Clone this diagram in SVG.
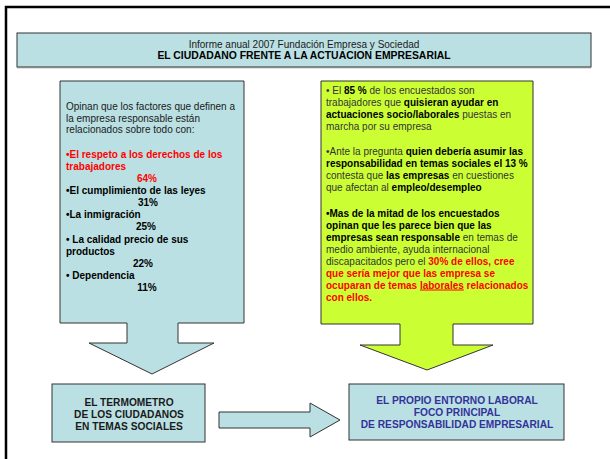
<svg xmlns="http://www.w3.org/2000/svg" width="610" height="459" viewBox="0 0 610 459">
<style>
text{font-family:"Liberation Sans",Arial,sans-serif;fill:#1a1a1a}
.t{font-size:10px}
.b{font-weight:bold;fill:#000}
.r{font-weight:bold;fill:#ff0000}
.n{fill:#333}
.blue{fill:#bbe0e3;stroke:#333;stroke-width:1}
.lime{fill:#ccff33;stroke:#333;stroke-width:1}
.cap{font-size:10.2px;font-weight:bold;text-anchor:middle}
</style>
<rect width="610" height="459" fill="#fff"/>
<path d="M6,459 V7 H610" fill="none" stroke="#000" stroke-width="2.5"/>
<g id="title">
<rect x="17" y="33" width="574" height="34" class="blue"/>
<line x1="17" y1="67.5" x2="591" y2="67.5" stroke="#888" stroke-width="1.5"/>
<text x="304" y="47.5" class="t" text-anchor="middle">Informe anual 2007 Fundación Empresa y Sociedad</text>
<text x="304" y="58.5" class="t b" text-anchor="middle" style="font-size:10.4px">EL CIUDADANO FRENTE A LA ACTUACION EMPRESARIAL</text>
</g>
<g id="left-panel">
<path d="M60,81 H244 V323 H178 V343 H214 L152,374 L89,343 H127 V323 H60 Z" class="blue"/>
<g class="t">
<text x="66" y="110">Opinan que los factores que definen a</text>
<text x="66" y="121.5">la empresa responsable están</text>
<text x="66" y="133">relacionados sobre todo con:</text>
<text x="66" y="158" class="r">•El respeto a los derechos de los</text>
<text x="66" y="170" class="r">trabajadores</text>
<text x="147" y="182" class="r" text-anchor="middle">64%</text>
<text x="66" y="194" class="b">•El cumplimiento de las leyes</text>
<text x="148" y="206" class="b" text-anchor="middle">31%</text>
<text x="66" y="218" class="b">•La inmigración</text>
<text x="146" y="230" class="b" text-anchor="middle">25%</text>
<text x="66" y="242.5" class="b">• La calidad precio de sus</text>
<text x="66" y="254.5" class="b">productos</text>
<text x="143" y="267" class="b" text-anchor="middle">22%</text>
<text x="66" y="279" class="b">• Dependencia</text>
<text x="147" y="291" class="b" text-anchor="middle">11%</text>
</g>
</g>
<g id="right-panel">
<path d="M321,81 H533 V324 H453 V345 H493 L427,370 L360,345 H400 V324 H321 Z" class="lime"/>
<g class="t">
<text x="326" y="94"><tspan class="n">• El </tspan><tspan class="b">85 %</tspan><tspan class="n"> de los encuestados son</tspan></text>
<text x="326" y="106"><tspan class="n">trabajadores que </tspan><tspan class="b">quisieran ayudar en</tspan></text>
<text x="326" y="118"><tspan class="b">actuaciones socio/laborales</tspan><tspan class="n"> puestas en</tspan></text>
<text x="326" y="130"><tspan class="n">marcha por su empresa</tspan></text>
<text x="326" y="155"><tspan class="n">•Ante la pregunta </tspan><tspan class="b">quien debería asumir las</tspan></text>
<text x="326" y="167"><tspan class="b">responsabilidad en temas sociales el 13 %</tspan></text>
<text x="326" y="179"><tspan class="n">contesta que </tspan><tspan class="b">las empresas</tspan><tspan class="n"> en cuestiones</tspan></text>
<text x="326" y="191"><tspan class="n">que afectan al </tspan><tspan class="b">empleo/desempleo</tspan></text>
<text x="326" y="216.5" class="b">•Mas de la mitad de los encuestados</text>
<text x="326" y="228.5" class="b">opinan que les parece bien que las</text>
<text x="326" y="240.5"><tspan class="b">empresas sean responsable</tspan><tspan class="n"> en temas de</tspan></text>
<text x="326" y="252.5"><tspan class="n">medio ambiente, ayuda internacional</tspan></text>
<text x="326" y="264.5"><tspan class="n">discapacitados pero el </tspan><tspan class="r">30% de ellos, cree</tspan></text>
<text x="326" y="276.5" class="r">que sería mejor que las empresa se</text>
<text x="326" y="288.5" class="r">ocuparan de temas <tspan text-decoration="underline">laborales</tspan> relacionados</text>
<text x="326" y="300.5" class="r">con ellos.</text>
</g>
</g>
<g id="box-termometro">
<rect x="52" y="384" width="153" height="58" class="blue"/>
<text x="129" y="406" class="cap">EL TERMOMETRO</text>
<text x="129" y="418" class="cap">DE LOS CIUDADANOS</text>
<text x="129" y="430" class="cap">EN TEMAS SOCIALES</text>
</g>
<g id="box-entorno">
<rect x="349" y="384" width="215" height="56" class="blue"/>
<text x="457" y="404" class="cap" style="fill:#333399">EL PROPIO ENTORNO LABORAL</text>
<text x="457" y="416" class="cap" style="fill:#333399">FOCO PRINCIPAL</text>
<text x="457" y="428" class="cap" style="fill:#333399">DE RESPONSABILIDAD EMPRESARIAL</text>
</g>
<g id="connectors">
<path d="M219,412 H310 V403 L340,420 L310,437 V428 H219 Z" class="blue"/>
</g>
</svg>
